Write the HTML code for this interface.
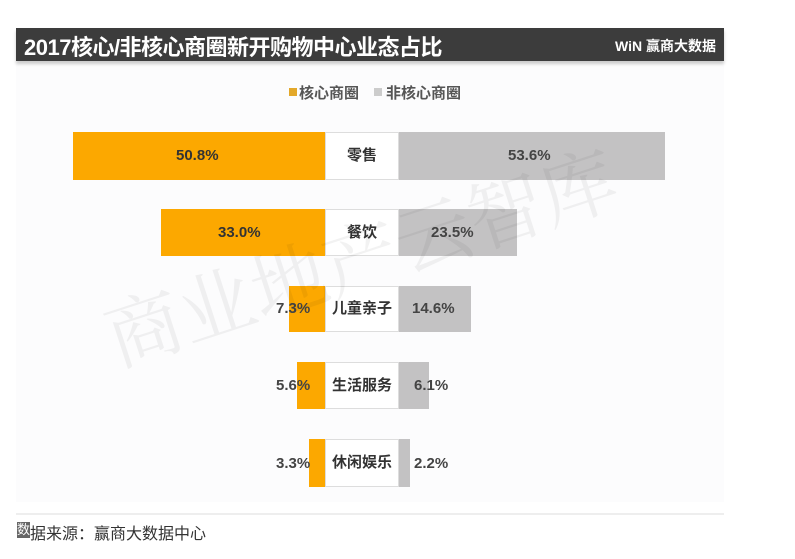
<!DOCTYPE html>
<html><head><meta charset="utf-8"><style>
body{margin:0;width:795px;height:559px;background:#fff;position:relative;overflow:hidden;font-family:"Liberation Sans","Noto Sans CJK SC",sans-serif;}
.a{position:absolute}
.bg{left:16px;top:62px;width:708px;height:440px;background:#fcfcfd}
.title{left:16px;top:28px;width:708px;height:33px;background:#3c3c3c;box-shadow:0 3px 3px #ccc}
.title span{position:absolute;left:8px;top:2px;color:#fff;font-size:22px;font-weight:bold;letter-spacing:-0.5px}
.logo{position:absolute;right:8px;top:8px;color:#fff;font-size:14px;font-weight:bold}
.o{background:#fca800}.g{background:#c3c2c3}
.box{background:#fff;border:1px solid #ddd;box-sizing:border-box;font-size:15px;font-weight:bold;color:#333;text-align:center}
.t{font-size:15px;font-weight:bold;color:#444}
.wm{left:95px;top:300px;font-family:"Noto Serif CJK SC",serif;font-size:76px;line-height:76px;color:rgba(0,0,0,0.05);transform:rotate(-18deg);transform-origin:left top;white-space:nowrap}
</style></head><body>
<div class="a bg"></div>
<div class="a title"><span>2017核心/非核心商圈新开购物中心业态占比</span><div class="logo">WiN 赢商大数据</div></div>
<div class="a" style="left:289px;top:88px;width:8px;height:8px;background:#e3a82a"></div>
<div class="a t" style="left:299px;top:82px;color:#555">核心商圈</div>
<div class="a" style="left:374px;top:88px;width:8px;height:8px;background:#ccc"></div>
<div class="a t" style="left:386px;top:82px;color:#555">非核心商圈</div>

<div class="a o" style="left:73px;top:132px;width:253px;height:48px"></div>
<div class="a box" style="left:325px;top:132px;width:74px;height:48px;line-height:46px">零售</div>
<div class="a g" style="left:399px;top:132px;width:266px;height:48px"></div>
<div class="a t" style="left:176px;top:147px;color:#333">50.8%</div>
<div class="a t" style="left:508px;top:147px">53.6%</div>

<div class="a o" style="left:161px;top:209px;width:165px;height:47px"></div>
<div class="a box" style="left:325px;top:209px;width:74px;height:47px;line-height:45px">餐饮</div>
<div class="a g" style="left:399px;top:209px;width:118px;height:47px"></div>
<div class="a t" style="left:218px;top:224px;color:#333">33.0%</div>
<div class="a t" style="left:431px;top:224px">23.5%</div>

<div class="a o" style="left:289px;top:286px;width:37px;height:46px"></div>
<div class="a box" style="left:325px;top:286px;width:74px;height:46px;line-height:44px">儿童亲子</div>
<div class="a g" style="left:399px;top:286px;width:72px;height:46px"></div>
<div class="a t" style="left:276px;top:300px">7.3%</div>
<div class="a t" style="left:412px;top:300px">14.6%</div>

<div class="a o" style="left:297px;top:362px;width:29px;height:47px"></div>
<div class="a box" style="left:325px;top:362px;width:74px;height:47px;line-height:45px">生活服务</div>
<div class="a g" style="left:399px;top:362px;width:30px;height:47px"></div>
<div class="a t" style="left:276px;top:377px">5.6%</div>
<div class="a t" style="left:414px;top:377px">6.1%</div>

<div class="a o" style="left:309px;top:439px;width:17px;height:48px"></div>
<div class="a box" style="left:325px;top:439px;width:74px;height:48px;line-height:46px">休闲娱乐</div>
<div class="a g" style="left:399px;top:439px;width:11px;height:48px"></div>
<div class="a t" style="left:276px;top:455px">3.3%</div>
<div class="a t" style="left:414px;top:455px">2.2%</div>

<div class="a wm">商业地产云智库</div>
<div class="a" style="left:16px;top:513px;width:708px;height:2px;background:#eee"></div>
<div class="a" style="left:17px;top:522px;width:13px;height:16px;background:#666;color:#fff;font-size:13px;line-height:16px;text-align:center">数</div>
<div class="a" style="left:30px;top:520px;font-size:16px;color:#333">据来源：赢商大数据中心</div>
</body></html>
